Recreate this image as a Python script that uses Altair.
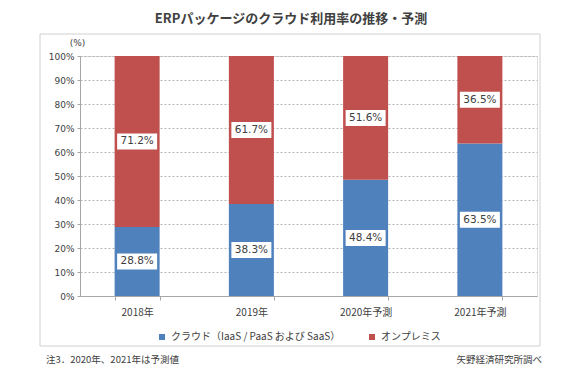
import altair as alt
import pandas as pd

years = ["2018年", "2019年", "2020年予測", "2021年予測"]
cloud = [28.8, 38.3, 48.4, 63.5]
onprem = [71.2, 61.7, 51.6, 36.5]
series = ["クラウド（IaaS / PaaS および SaaS）", "オンプレミス"]
colors = ["#4F81BD", "#C0504D"]
y_ticks = [0, 10, 20, 30, 40, 50, 60, 70, 80, 90, 100]

title_text = "ERPパッケージのクラウド利用率の推移・予測"
note_left = "注3．2020年、2021年は予測値"
note_right = "矢野経済研究所調べ"

rows = []
for i, yr in enumerate(years):
    rows.append({"year": yr, "series": series[0], "value": cloud[i], "order": 0})
    rows.append({"year": yr, "series": series[1], "value": onprem[i], "order": 1})
df = pd.DataFrame(rows)

JP = "Noto Sans CJK JP"
TXT = "#404040"

base = alt.Chart(df).transform_stack(
    stack="value", groupby=["year"], as_=["v0", "v1"], sort=[alt.SortField("order")]
).transform_calculate(
    mid="(datum.v0 + datum.v1) / 2",
    label="format(datum.value, '.1f') + '%'",
)

x_axis = alt.Axis(
    title=None, labelAngle=0, labelFont=JP, labelFontSize=10, labelColor=TXT,
    labelPadding=7, tickBand="extent", tickSize=4, tickColor="#A6A6A6",
    domainColor="#A6A6A6", grid=False,
)
x_scale = alt.Scale(paddingInner=0.606, paddingOuter=0.303)
y_scale = alt.Scale(domain=[0, 100], nice=False)
y_axis = alt.Axis(
    values=y_ticks, tickCount=11, labelExpr="datum.value + '%'", labelFont="DejaVu Sans",
    labelFontSize=9, labelColor=TXT, labelPadding=3, tickSize=3, labelOverlap=False,
    tickColor="#A6A6A6", domainColor="#A6A6A6", grid=True,
    gridColor="#B4B4B4", gridDash=[2, 2], gridWidth=1,
    title="(%)", titleAngle=0, titleX=-3, titleY=-14, titleAlign="center",
    titleBaseline="middle", titleFont="DejaVu Sans", titleFontSize=9,
    titleFontWeight="normal", titleColor=TXT,
)

x_enc = alt.X("year:N", sort=years, scale=x_scale, axis=x_axis)

bars = base.mark_bar().encode(
    x=x_enc,
    y=alt.Y("v0:Q", scale=y_scale, axis=y_axis),
    y2="v1:Q",
    color=alt.Color(
        "series:N",
        scale=alt.Scale(domain=series, range=colors),
        legend=alt.Legend(
            title=None, orient="none", legendX=77, legendY=276, direction="horizontal",
            symbolType="square", symbolSize=36, symbolStrokeWidth=0,
            labelFont=JP, labelFontSize=10, labelColor=TXT, columnPadding=26,
            labelOffset=4, labelLimit=400,
        ),
    ),
    order=alt.Order("order:Q"),
)

label_bg = base.mark_point(
    shape="M-1,-0.4H1V0.4H-1Z", size=1600, filled=True, color="white",
    opacity=1, strokeWidth=0,
).encode(x=x_enc, y=alt.Y("mid:Q", scale=y_scale, axis=y_axis))

labels = base.mark_text(
    font="DejaVu Sans", fontSize=10.5, color=TXT, baseline="middle"
).encode(x=x_enc, y=alt.Y("mid:Q", scale=y_scale, axis=y_axis), text="label:N")

frame = alt.Chart(pd.DataFrame({"a": [0]})).mark_rect(
    fillOpacity=0, stroke="#D0D0D0", strokeWidth=1
).encode(x=alt.value(-40), x2=alt.value(460), y=alt.value(-22), y2=alt.value(290))

title = alt.Chart(pd.DataFrame({"t": [title_text]})).mark_text(
    font=JP, fontSize=13, fontWeight="bold", color=TXT, align="center", baseline="middle"
).encode(text="t:N", x=alt.value(211), y=alt.value(-37))

foot_l = alt.Chart(pd.DataFrame({"t": [note_left]})).mark_text(
    font=JP, fontSize=9.5, color=TXT, align="left", baseline="middle"
).encode(text="t:N", x=alt.value(-34), y=alt.value(304))

foot_r = alt.Chart(pd.DataFrame({"t": [note_right]})).mark_text(
    font=JP, fontSize=9.5, color=TXT, align="right", baseline="middle"
).encode(text="t:N", x=alt.value(462), y=alt.value(304))

chart = alt.layer(frame, bars, label_bg, labels, title, foot_l, foot_r).properties(
    width=457, height=240,
    autosize=alt.AutoSizeParams(type="none"),
    padding={"left": 72, "top": 48, "right": 20, "bottom": 70},
).configure_view(stroke=None).configure(background="white")

chart.save("out.html", embed_options={"renderer": "svg", "actions": False})
